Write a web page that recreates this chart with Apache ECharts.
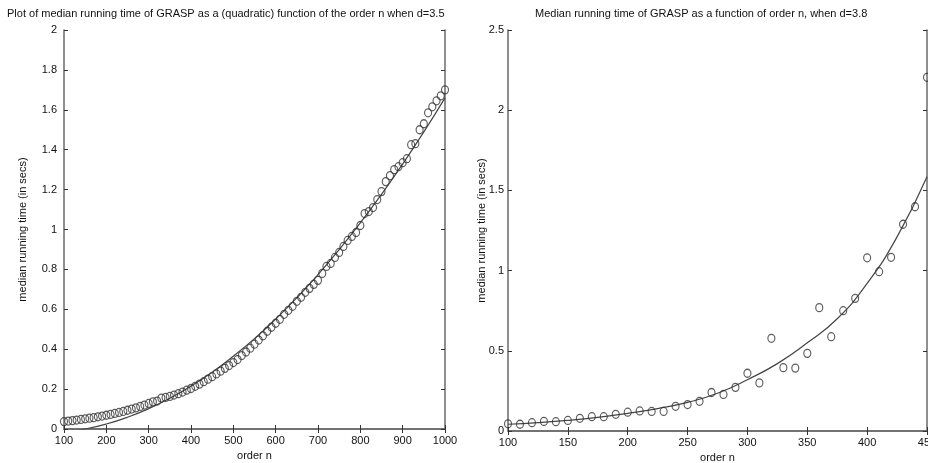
<!DOCTYPE html>
<html>
<head>
<meta charset="utf-8">
<script src="https://cdn.jsdelivr.net/npm/echarts@6/dist/echarts.min.js"></script>
<style>html,body{margin:0;padding:0;background:#fff}#c{width:928px;height:463px}</style>
</head>
<body>
<div id="c"></div>
<script>
// ---- Left panel (d = 3.5) ----
var leftTitle = 'Plot of median running time of GRASP as a (quadratic) function of the order n when d=3.5';
var leftN = [100,110,120,130,140,150,160,170,180,190,200,210,220,230,240,250,260,270,280,290,
  300,310,320,330,340,350,360,370,380,390,400,410,420,430,440,450,460,470,480,490,
  500,510,520,530,540,550,560,570,580,590,600,610,620,630,640,650,660,670,680,690,
  700,710,720,730,740,750,760,770,780,790,800,810,820,830,840,850,860,870,880,890,
  900,910,920,930,940,950,960,970,980,990,1000];
var leftTime = [0.037,0.040,0.042,0.045,0.048,0.051,0.054,0.057,0.061,0.065,
  0.069,0.073,0.078,0.083,0.088,0.094,0.100,0.106,0.113,0.120,
  0.128,0.136,0.140,0.155,0.158,0.163,0.170,0.177,0.185,0.195,
  0.203,0.214,0.225,0.237,0.250,0.262,0.276,0.290,0.304,0.318,
  0.333,0.348,0.368,0.386,0.405,0.425,0.446,0.467,0.490,0.510,
  0.530,0.550,0.575,0.595,0.615,0.640,0.660,0.685,0.705,0.725,
  0.745,0.780,0.815,0.830,0.860,0.885,0.915,0.945,0.965,0.985,
  1.020,1.080,1.090,1.110,1.150,1.190,1.240,1.270,1.300,1.315,
  1.335,1.355,1.425,1.430,1.500,1.530,1.585,1.615,1.645,1.670,1.700];
var leftFitN = [100,150,200,250,300,350,400,450,500,550,600,650,700,750,800,850,900,950,1000];
var leftFit = [-0.016,0.000,0.025,0.059,0.102,0.154,0.215,0.285,0.365,0.453,0.551,0.658,0.774,0.899,1.033,1.176,1.328,1.489,1.660];
var leftXTicks = [100,200,300,400,500,600,700,800,900,1000];
var leftYTicks = [0,0.2,0.4,0.6,0.8,1,1.2,1.4,1.6,1.8,2];

// ---- Right panel (d = 3.8) ----
var rightTitle = 'Median running time of GRASP as a function of order n, when d=3.8';
var rightN = [100,110,120,130,140,150,160,170,180,190,200,210,220,230,240,250,260,270,
  280,290,300,310,320,330,340,350,360,370,380,390,400,410,420,430,440,450];
var rightTime = [0.045,0.042,0.052,0.060,0.058,0.066,0.079,0.089,0.089,0.104,0.117,0.125,
  0.122,0.122,0.154,0.165,0.185,0.240,0.228,0.272,0.360,0.300,0.578,0.395,0.392,0.484,
  0.769,0.588,0.750,0.827,1.080,0.993,1.083,1.289,1.398,2.205];
var rightFitN = [100,125,150,175,200,225,250,275,300,325,350,375,400,425,450];
var rightFit = [0.042,0.052,0.066,0.085,0.110,0.140,0.178,0.235,0.320,0.420,0.550,0.700,0.920,1.210,1.585];
var rightXTicks = [100,150,200,250,300,350,400,450];
var rightYTicks = [0,0.5,1,1.5,2,2.5];

var axisNameX = 'order n';
var axisNameY = 'median running time (in secs)';

function pairs(xs, ys){ return xs.map(function(x,i){ return [x, ys[i]]; }); }

var FONT = 'Liberation Sans';
var frame = {show:true, lineStyle:{color:'#6a6a6a', width:1.5}};
var lbl = {color:'#111', fontSize:11, fontFamily:FONT};
function fmt(v){ return String(+(+v).toFixed(2)); }

function xAxisPair(gi, ticks){
  var mn = ticks[0], mx = ticks[ticks.length-1], iv = ticks[1]-ticks[0];
  return [
    {type:'value', gridIndex:gi, min:mn, max:mx, interval:iv, position:'bottom',
     axisLine:frame, axisTick:{show:true, inside:true, length:4, lineStyle:{color:'#333'}},
     splitLine:{show:false}, axisLabel:Object.assign({margin:6, showMinLabel:true, showMaxLabel:true, hideOverlap:false, formatter:fmt}, lbl),
     name:axisNameX, nameLocation:'middle', nameGap:20, nameTextStyle:{color:'#111', fontSize:11, fontFamily:FONT}},
    {type:'value', gridIndex:gi, min:mn, max:mx, interval:iv, position:'top',
     axisLine:frame, axisTick:{show:true, inside:true, length:4, lineStyle:{color:'#333'}},
     splitLine:{show:false}, axisLabel:{show:false}}
  ];
}
function yAxisPair(gi, ticks, gap, margin){
  var mn = ticks[0], mx = ticks[ticks.length-1], iv = ticks[1]-ticks[0];
  return [
    {type:'value', gridIndex:gi, min:mn, max:mx, interval:iv, position:'left',
     axisLine:frame, axisTick:{show:true, inside:true, length:4, lineStyle:{color:'#333'}},
     splitLine:{show:false}, axisLabel:Object.assign({margin:margin, formatter:fmt}, lbl),
     name:axisNameY, nameLocation:'middle', nameGap:gap, nameRotate:90, nameMoveOverlap:false,
     nameTextStyle:{color:'#111', fontSize:11, fontFamily:FONT}},
    {type:'value', gridIndex:gi, min:mn, max:mx, interval:iv, position:'right',
     axisLine:frame, axisTick:{show:true, inside:true, length:4, lineStyle:{color:'#333'}},
     splitLine:{show:false}, axisLabel:{show:false}}
  ];
}

var chart = echarts.init(document.getElementById('c'), null, {renderer:'canvas'});
chart.setOption({
  animation:false,
  backgroundColor:'#fff',
  title:[
    {text:leftTitle, left:2, top:3, textStyle:{fontSize:11, fontWeight:'normal', color:'#111', fontFamily:FONT}},
    {text:rightTitle, left:530, top:3, textStyle:{fontSize:11, fontWeight:'normal', color:'#111', fontFamily:FONT}}
  ],
  grid:[
    {left:64, right:483, top:30, bottom:34, outerBoundsMode:'none', containLabel:false},
    {left:508, right:1, top:30, bottom:32, outerBoundsMode:'none', containLabel:false}
  ],
  xAxis: xAxisPair(0, leftXTicks).concat(xAxisPair(1, rightXTicks)),
  yAxis: yAxisPair(0, leftYTicks, 36, 7).concat(yAxisPair(1, rightYTicks, 21, 4)),
  series:[
    {type:'line', xAxisIndex:0, yAxisIndex:0, data:pairs(leftFitN, leftFit), smooth:true, showSymbol:false,
     clip:true, lineStyle:{color:'#444', width:1.2}, z:3},
    {type:'scatter', xAxisIndex:0, yAxisIndex:0, data:pairs(leftN, leftTime), symbol:'circle', symbolSize:[7,8],
     itemStyle:{color:'rgba(255,255,255,0)', borderColor:'#333', borderWidth:1.2}, z:4},
    {type:'line', xAxisIndex:2, yAxisIndex:2, data:pairs(rightFitN, rightFit), smooth:true, showSymbol:false,
     clip:true, lineStyle:{color:'#444', width:1.2}, z:3},
    {type:'scatter', xAxisIndex:2, yAxisIndex:2, data:pairs(rightN, rightTime), symbol:'circle', symbolSize:[7,8],
     itemStyle:{color:'rgba(255,255,255,0)', borderColor:'#333', borderWidth:1.2}, z:4}
  ]
});
</script>
</body>
</html>
